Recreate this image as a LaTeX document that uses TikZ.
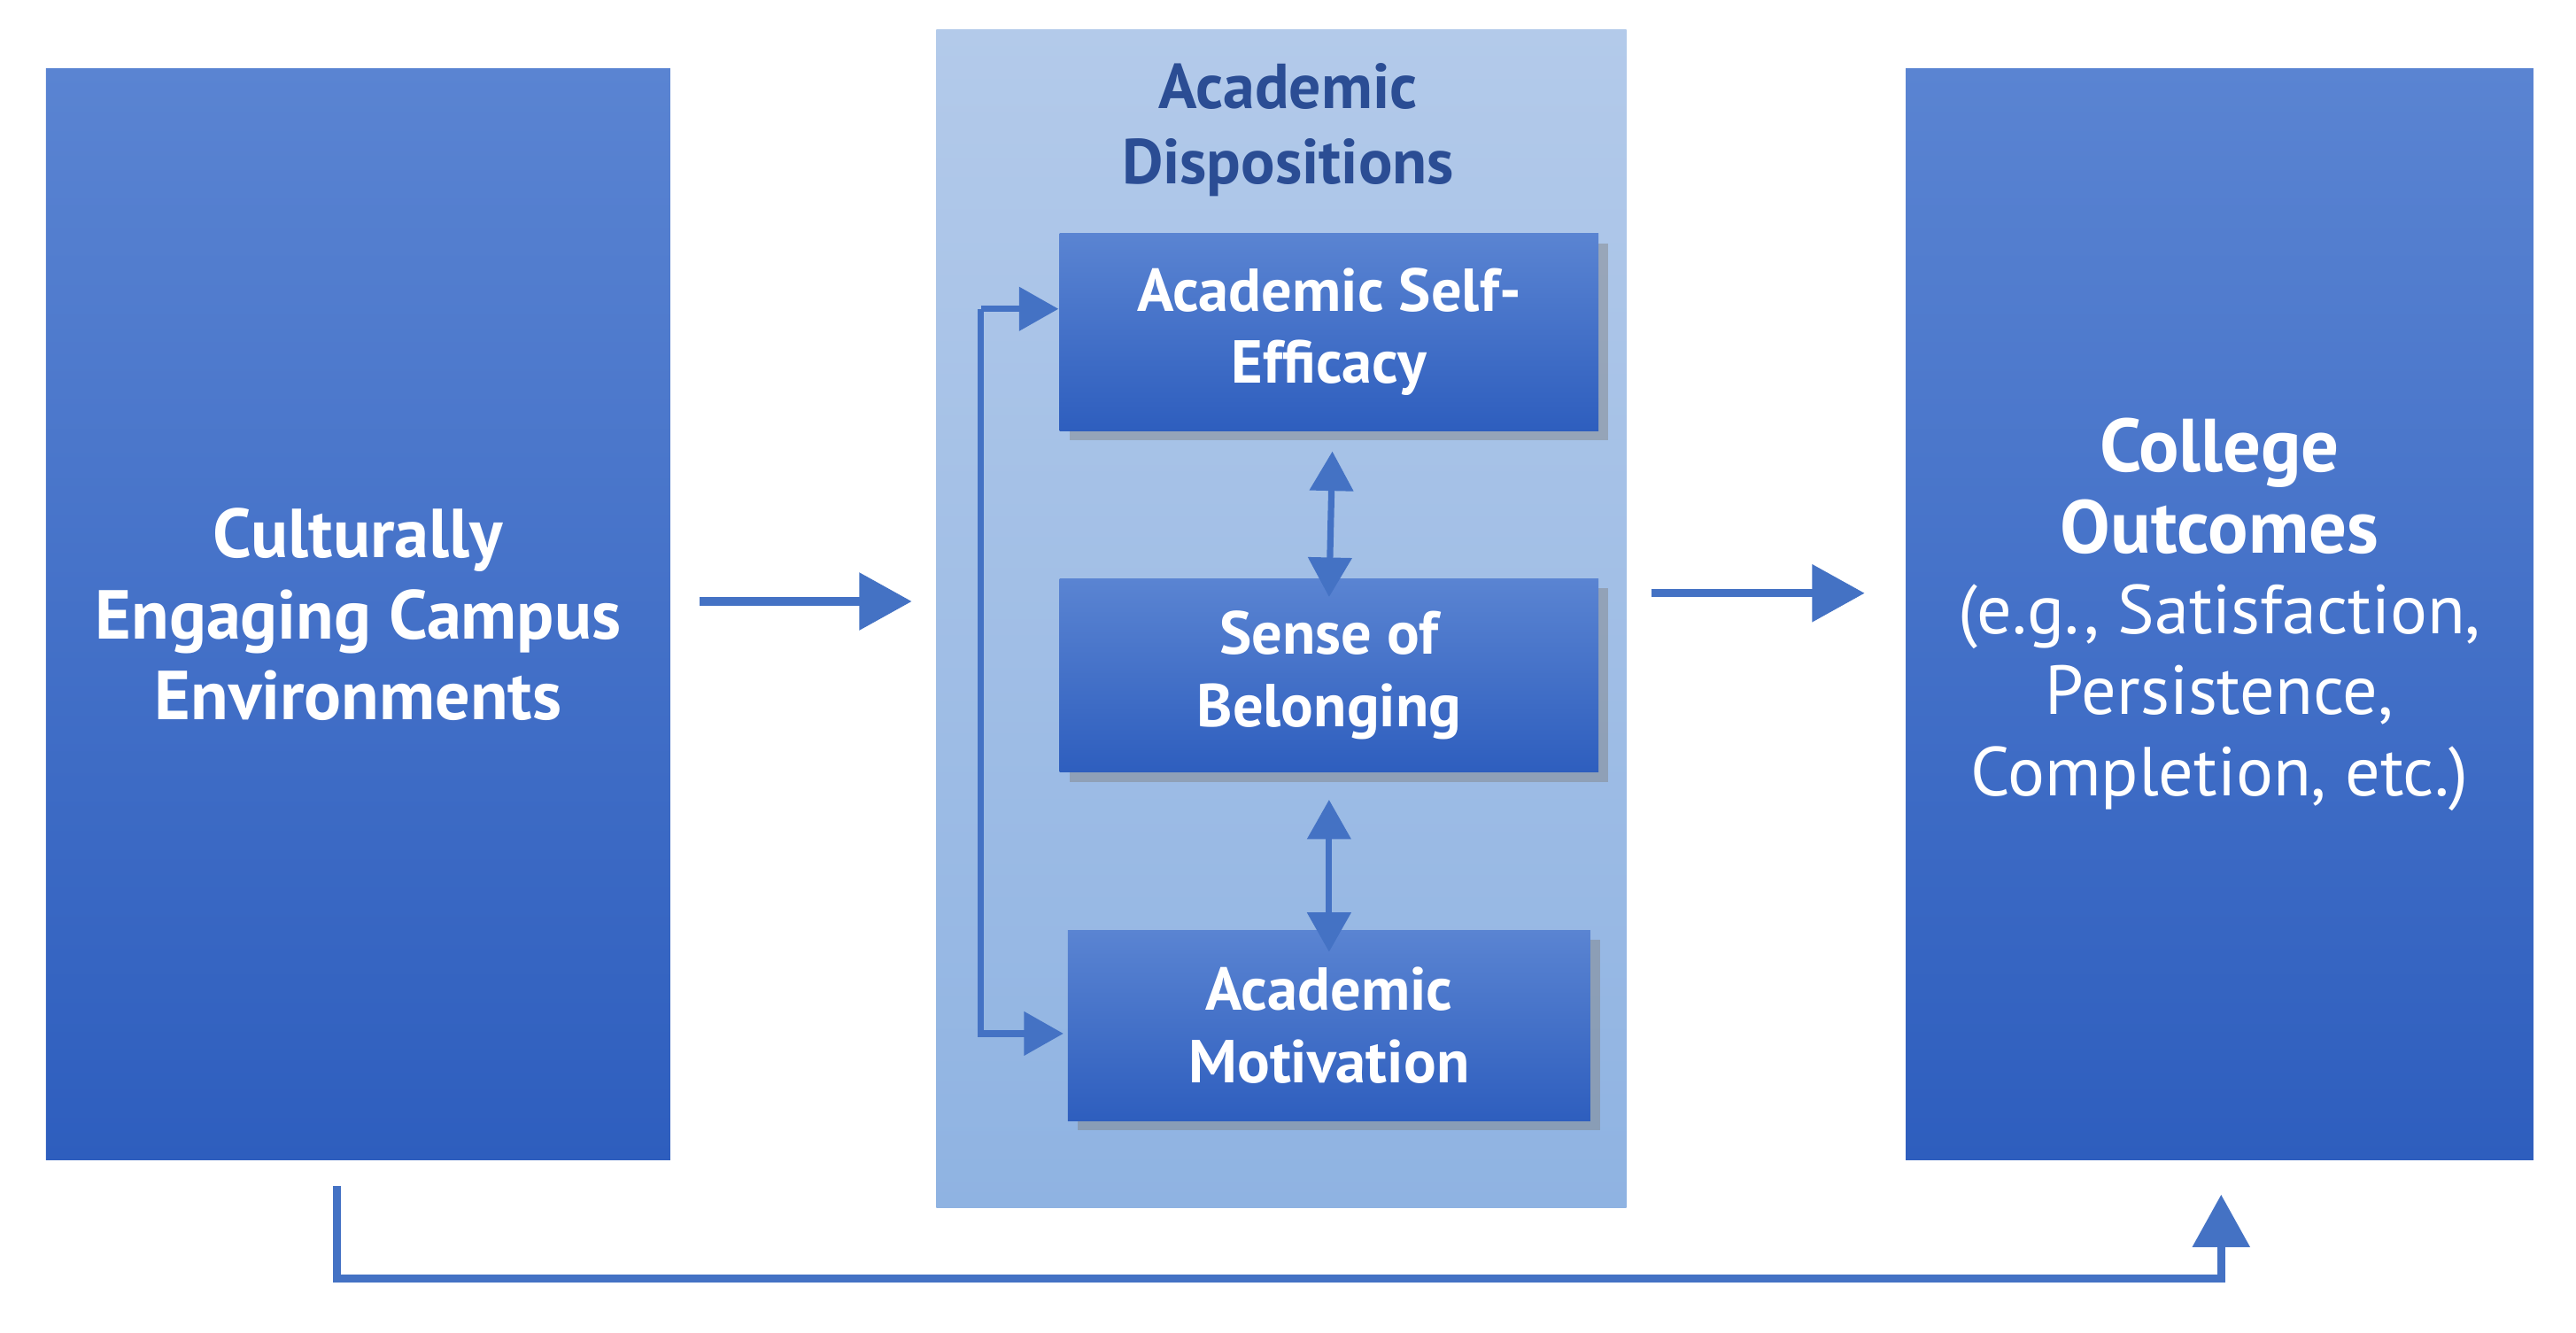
\documentclass[tikz,border=0pt]{standalone}
\usepackage{fontspec}
\setmainfont{PT Sans}
\usetikzlibrary{shadows,arrows.meta}
\definecolor{btop}{HTML}{5A84D2}
\definecolor{bbot}{HTML}{2E5EBE}
\definecolor{ptop}{HTML}{B3CAEA}
\definecolor{pbot}{HTML}{8FB3E2}
\definecolor{ttl}{HTML}{2B4D94}
\definecolor{arr}{HTML}{4472C4}
\tikzset{
 big/.style={top color=btop,bottom color=bbot,draw=none,text=white,font=\bfseries\fontsize{12}{14}\selectfont,align=center},
 inner/.style={big,drop shadow={shadow xshift=0.6mm,shadow yshift=-0.6mm,opacity=0.45},font=\bfseries\fontsize{10.5}{12.5}\selectfont},
 con/.style={draw=arr,line width=1.4pt,-{Triangle[length=3.2mm,width=3.4mm]}},
 dbl/.style={draw=arr,line width=1.1pt,{Triangle[length=2.4mm,width=2.6mm]}-{Triangle[length=2.4mm,width=2.6mm]}},
}
\begin{document}
\begin{tikzpicture}[x=0.1mm,y=-0.1mm]
\useasboundingbox[fill=white] (0,0) rectangle (1568,811);
\node[big,minimum width=380*0.1mm,minimum height=664*0.1mm] (L) at (218,374) {Culturally\\Engaging Campus\\Environments};
\node[top color=ptop,bottom color=pbot,minimum width=420*0.1mm,minimum height=717*0.1mm] (P) at (780,376.5) {};
\node[text=ttl,font=\bfseries\fontsize{11}{13}\selectfont,align=center] (T) at (784,79) {Academic\\Dispositions};
\node[big,minimum width=382*0.1mm,minimum height=664*0.1mm,font=\fontsize{12}{14}\selectfont] (R) at (1351,374) {{\bfseries\fontsize{13}{15}\selectfont College}\\{\bfseries\fontsize{13}{15}\selectfont Outcomes}\\(e.g., Satisfaction,\\Persistence,\\Completion, etc.)};
\node[inner,minimum width=328*0.1mm,minimum height=120*0.1mm] (A) at (809,202) {Academic Self-\\Efficacy};
\node[inner,minimum width=328*0.1mm,minimum height=118*0.1mm] (B) at (809,411) {Sense of\\Belonging};
\node[inner,minimum width=318*0.1mm,minimum height=116*0.1mm] (C) at (809,624) {Academic\\Motivation};
\draw[con] (L.east|-0,366) +(17,0) coordinate (l1) -- (555,366) coordinate (l2);
\draw[con] (1005,361) coordinate (r1) -- (1135,361) coordinate (r2);
\draw[dbl] (A.south)+(2,12) -- ([yshift=-12*0.1mm]B.north);
\draw[dbl] (B.south)+(0,16) -- ([yshift=-14*0.1mm]C.north);
\coordinate (s1) at (597,188); \coordinate (s2) at (597,629);
\draw[draw=arr,line width=1.1pt,-{Triangle[length=2.4mm,width=2.6mm]}] (s1) -- (s1-|A.west);
\draw[draw=arr,line width=1.1pt,-{Triangle[length=2.4mm,width=2.6mm]}] (s1) -- (s2) -- ([xshift=-2*0.1mm]s2-|C.west);
\coordinate (b0) at (205,722); \coordinate (b1) at (205,778); \coordinate (b2) at (1352,778);
\draw[con] (b0) -- (b1) -- (b2) -- (1352,727);
\end{tikzpicture}
\end{document}
